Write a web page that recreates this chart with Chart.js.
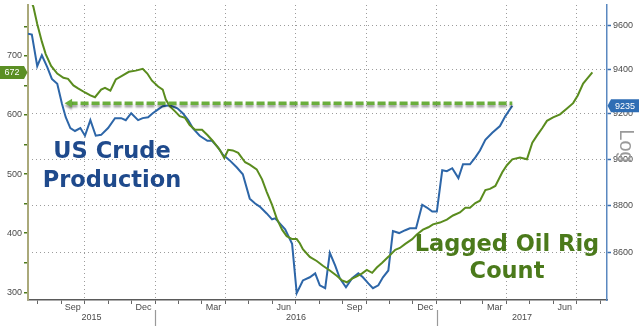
<!DOCTYPE html>
<html>
<head>
<meta charset="utf-8">
<script src="https://cdn.jsdelivr.net/npm/chart.js@4.4.0/dist/chart.umd.min.js"></script>
<style>
html,body{margin:0;padding:0;background:#fff}
canvas{display:block}
</style>
</head>
<body>
<canvas id="c" width="640" height="326"></canvas>
<script>
// US crude production (kb/d, right log axis)
const blueDates = ["2015-07-20","2015-07-25","2015-08-01","2015-08-07","2015-08-14","2015-08-20","2015-08-27","2015-09-02","2015-09-07","2015-09-13","2015-09-19","2015-09-26","2015-10-02","2015-10-09","2015-10-16","2015-10-23","2015-11-01","2015-11-10","2015-11-18","2015-11-24","2015-12-01","2015-12-10","2015-12-16","2015-12-23","2015-12-29","2016-01-05","2016-01-11","2016-01-20","2016-01-30","2016-02-06","2016-02-13","2016-02-19","2016-02-28","2016-03-09","2016-03-15","2016-03-23","2016-03-29","2016-04-07","2016-04-16","2016-04-24","2016-05-03","2016-05-10","2016-05-16","2016-05-25","2016-06-01","2016-06-05","2016-06-11","2016-06-18","2016-06-27","2016-07-03","2016-07-11","2016-07-20","2016-07-27","2016-08-02","2016-08-09","2016-08-15","2016-08-22","2016-08-28","2016-09-05","2016-09-13","2016-09-21","2016-09-27","2016-10-04","2016-10-10","2016-10-17","2016-10-23","2016-10-30","2016-11-05","2016-11-13","2016-11-21","2016-11-27","2016-12-05","2016-12-13","2016-12-19","2016-12-26","2017-01-01","2017-01-08","2017-01-14","2017-01-21","2017-01-29","2017-02-04","2017-02-13","2017-02-20","2017-02-26","2017-03-05","2017-03-14","2017-03-24","2017-03-31","2017-04-09"];
const blueValues = [9563,9559,9414,9464,9410,9356,9334,9245,9184,9136,9123,9136,9102,9171,9102,9106,9136,9180,9180,9171,9202,9171,9180,9184,9202,9219,9233,9237,9224,9202,9171,9136,9102,9080,9080,9050,9020,8994,8964,8934,8829,8808,8795,8766,8741,8745,8724,8699,8638,8434,8486,8499,8515,8466,8454,8600,8547,8495,8458,8495,8515,8499,8474,8454,8466,8499,8527,8691,8683,8695,8703,8703,8803,8791,8774,8774,8951,8947,8960,8917,8977,8977,9007,9037,9084,9115,9145,9189,9235];

// Lagged oil rig count (left axis)
const greenDates = ["2015-07-21","2015-07-27","2015-08-01","2015-08-07","2015-08-12","2015-08-19","2015-08-27","2015-09-04","2015-09-10","2015-09-17","2015-09-23","2015-10-02","2015-10-09","2015-10-15","2015-10-23","2015-10-28","2015-11-04","2015-11-11","2015-11-19","2015-11-28","2015-12-07","2015-12-16","2015-12-22","2015-12-28","2016-01-05","2016-01-11","2016-01-15","2016-01-20","2016-01-27","2016-02-02","2016-02-09","2016-02-15","2016-02-22","2016-03-02","2016-03-09","2016-03-16","2016-03-25","2016-03-31","2016-04-05","2016-04-11","2016-04-18","2016-04-27","2016-05-03","2016-05-12","2016-05-19","2016-05-25","2016-06-01","2016-06-07","2016-06-14","2016-06-20","2016-06-27","2016-07-03","2016-07-07","2016-07-11","2016-07-20","2016-07-29","2016-08-06","2016-08-15","2016-08-24","2016-08-31","2016-09-06","2016-09-13","2016-09-19","2016-09-26","2016-10-02","2016-10-09","2016-10-15","2016-10-22","2016-10-30","2016-11-08","2016-11-14","2016-11-21","2016-11-30","2016-12-06","2016-12-14","2016-12-21","2016-12-27","2017-01-05","2017-01-14","2017-01-22","2017-01-31","2017-02-07","2017-02-13","2017-02-20","2017-02-26","2017-03-05","2017-03-11","2017-03-18","2017-03-27","2017-04-02","2017-04-09","2017-04-19","2017-04-28","2017-05-05","2017-05-11","2017-05-18","2017-05-24","2017-06-01","2017-06-10","2017-06-19","2017-06-27","2017-07-03","2017-07-10","2017-07-15","2017-07-22"];
const greenValues = [803,783,754,724,703,683,670,663,661,650,645,638,633,630,643,646,641,660,666,673,675,678,670,658,648,643,626,615,606,598,595,583,575,575,566,556,541,527,541,540,536,520,516,508,491,470,448,425,406,395,390,390,383,373,360,353,345,337,328,320,317,323,327,332,338,333,342,350,360,372,375,382,390,398,406,410,415,418,423,430,435,443,443,451,455,473,475,480,503,515,525,528,525,553,565,578,590,596,601,611,620,633,653,661,672];

const arrowDates = ["2015-09-12","2017-04-09"];
const arrowLevel = 620;

const leftTicks = [300,350,400,450,500,550,600,650,700,750];
const rightTicks = [8600,8800,9000,9200,9400,9600];
const quarterDates = ["2015-10-01","2016-01-01","2016-04-01","2016-07-01","2016-10-01","2017-01-01","2017-04-01","2017-07-01"];
const quarterLabels = ["Sep","Dec","Mar","Jun","Sep","Dec","Mar","Jun"];
const yearLabels = ["2015","2016","2017"];
const yearStarts = ["2016-01-01","2017-01-01"];
const xRange = ["2015-07-20","2017-08-10"];

const BLUE = "#2d66a8", GREEN = "#5a8c1e", ARROW = "#6aae3c";
const TICKFONT = {family:"'Liberation Sans', Arial, sans-serif", size:9};

function dayOf(s){
  return (Date.UTC(+s.slice(0,4), +s.slice(5,7)-1, +s.slice(8,10)) - Date.UTC(2016,0,1)) / 864e5;
}
const pts = (ds, vs) => ds.map((d,i) => ({x: dayOf(d), y: vs[i]}));

const quarterDays = quarterDates.map(dayOf);
const monthDays = [];
for(let y=2015, m=7; y*12+m <= 2017*12+7; m++){
  if(m > 11){ m = 0; y++; }
  monthDays.push((Date.UTC(y,m,1) - Date.UTC(2016,0,1)) / 864e5);
}

const noPad = s => { s.paddingTop = 0; s.paddingBottom = 0; s.paddingLeft = 0; s.paddingRight = 0; };

const shadowPlugin = {
  id: "arrowShadow",
  beforeDatasetDraw(chart, args){
    if(args.index !== 0) return;
    const ctx = chart.ctx;
    ctx.save();
    ctx.shadowColor = "rgba(0,0,0,0.35)";
    ctx.shadowOffsetY = 2.5;
    ctx.shadowBlur = 2;
  },
  afterDatasetDraw(chart, args){
    if(args.index === 0) chart.ctx.restore();
  }
};

function badge(ctx, x0, x1, tip, y, color, text){
  const h = 13;
  ctx.fillStyle = color;
  ctx.beginPath();
  if(tip > x1){
    ctx.moveTo(x0, y-h/2); ctx.lineTo(x1, y-h/2); ctx.lineTo(tip, y); ctx.lineTo(x1, y+h/2); ctx.lineTo(x0, y+h/2);
  } else {
    ctx.moveTo(x1, y-h/2); ctx.lineTo(x0, y-h/2); ctx.lineTo(tip, y); ctx.lineTo(x0, y+h/2); ctx.lineTo(x1, y+h/2);
  }
  ctx.closePath();
  ctx.fill();
  ctx.fillStyle = "#fff";
  ctx.font = "9px 'Liberation Sans', Arial, sans-serif";
  ctx.textAlign = "center";
  ctx.textBaseline = "middle";
  ctx.fillText(text, (x0+x1)/2, y+0.5);
}

const notesPlugin = {
  id: "notes",
  afterDraw(chart){
    const ctx = chart.ctx, a = chart.chartArea, xs = chart.scales.x;
    ctx.save();
    ctx.font = "bold 22.5px 'DejaVu Sans', Verdana, sans-serif";
    ctx.textAlign = "center";
    ctx.textBaseline = "alphabetic";
    ctx.fillStyle = "#1f4a8c";
    ctx.fillText("US Crude", 112, 158);
    ctx.fillText("Production", 112, 187);
    ctx.fillStyle = "#4b7a1b";
    ctx.fillText("Lagged Oil Rig", 507, 251);
    ctx.fillText("Count", 507, 278);

    // year labels and separators
    const bounds = [a.left, ...yearStarts.map(d => xs.getPixelForValue(dayOf(d))), a.right];
    ctx.font = "9px 'Liberation Sans', Arial, sans-serif";
    ctx.fillStyle = "#4a4a4a";
    ctx.textBaseline = "middle";
    yearLabels.forEach((t,i) => ctx.fillText(t, (bounds[i]+bounds[i+1])/2, 318));
    ctx.strokeStyle = "#999";
    ctx.lineWidth = 1.2;
    yearStarts.forEach(d => {
      const x = Math.round(xs.getPixelForValue(dayOf(d))) + 0.5;
      ctx.beginPath(); ctx.moveTo(x, 310); ctx.lineTo(x, 326); ctx.stroke();
    });

    // "Log" axis note
    ctx.save();
    ctx.translate(620, 146);
    ctx.rotate(Math.PI/2);
    ctx.font = "20px 'Liberation Sans', Arial, sans-serif";
    ctx.fillStyle = "#9a9a9a";
    ctx.textAlign = "center";
    ctx.textBaseline = "alphabetic";
    ctx.fillText("Log", 0, 0);
    ctx.restore();

    // last value badges
    const gl = greenValues[greenValues.length-1], bl = blueValues[blueValues.length-1];
    badge(ctx, 0, 24, 27.5, chart.scales.y.getPixelForValue(gl), "#5b8f24", String(gl));
    badge(ctx, 611, 639, 607.5, chart.scales.y2.getPixelForValue(bl), "#2e6db4", String(bl));
    ctx.restore();
  }
};

new Chart(document.getElementById("c"), {
  type: "line",
  data: {
    datasets: [
      {
        label: "arrow", data: pts(arrowDates, [arrowLevel, arrowLevel]), yAxisID: "y", order: 0,
        borderColor: ARROW, backgroundColor: ARROW, borderWidth: 3.5, borderDash: [8,3],
        pointStyle: "triangle", pointRotation: -90, pointRadius: [5,0], pointBorderWidth: 0
      },
      {
        label: "Lagged Oil Rig Count", data: pts(greenDates, greenValues), yAxisID: "y", order: 1,
        borderColor: GREEN, borderWidth: 2, pointRadius: 0, tension: 0
      },
      {
        label: "US Crude Production", data: pts(blueDates, blueValues), yAxisID: "y2", order: 2,
        borderColor: BLUE, borderWidth: 2, pointRadius: 0, tension: 0
      }
    ]
  },
  options: {
    responsive: false,
    animation: false,
    layout: {padding: 0},
    plugins: {legend: {display: false}, tooltip: {enabled: false}},
    scales: {
      x: {
        type: "linear", min: dayOf(xRange[0]), max: dayOf(xRange[1]),
        afterBuildTicks: s => { s.ticks = monthDays.map(v => ({value: v})); },
        afterFit: s => { s.height = 26; noPad(s); },
        grid: {
          color: c => (c.tick && quarterDays.includes(c.tick.value)) ? "#9c9c9c" : "rgba(0,0,0,0)",
          tickColor: "#666", tickLength: 4, lineWidth: 1
        },
        border: {color: "#5a5a5a", width: 1.5, dash: [1,3]},
        ticks: {
          autoSkip: false, maxRotation: 0, padding: -1.5, labelOffset: -11.5,
          color: "#4a4a4a", font: TICKFONT,
          callback: v => { const i = quarterDays.indexOf(v); return i >= 0 ? quarterLabels[i] : ""; }
        }
      },
      y: {
        position: "left", min: 287, max: 786,
        afterBuildTicks: s => { s.ticks = leftTicks.map(v => ({value: v})); },
        afterFit: s => { s.width = 28; noPad(s); },
        grid: {drawOnChartArea: false, tickColor: "#4d7a1a", tickLength: 4, lineWidth: 1.5},
        border: {color: "#aaa97a", width: 2},
        ticks: {padding: 2, color: "#4a4a4a", font: TICKFONT, callback: v => v % 100 === 0 ? String(v) : ""}
      },
      y2: {
        type: "logarithmic", position: "right", min: 8406, max: 9697,
        afterBuildTicks: s => { s.ticks = rightTicks.map(v => ({value: v})); },
        afterFit: s => { s.width = 33; noPad(s); },
        grid: {color: "#9c9c9c", lineWidth: 1, tickColor: "#3a6fb0", tickLength: 4, tickWidth: 1.5},
        border: {color: "#5a88c0", width: 1.5, dash: [1,3]},
        ticks: {padding: 2, color: "#4a4a4a", font: TICKFONT, callback: v => String(v)}
      }
    }
  },
  plugins: [shadowPlugin, notesPlugin]
});
</script>
</body>
</html>
